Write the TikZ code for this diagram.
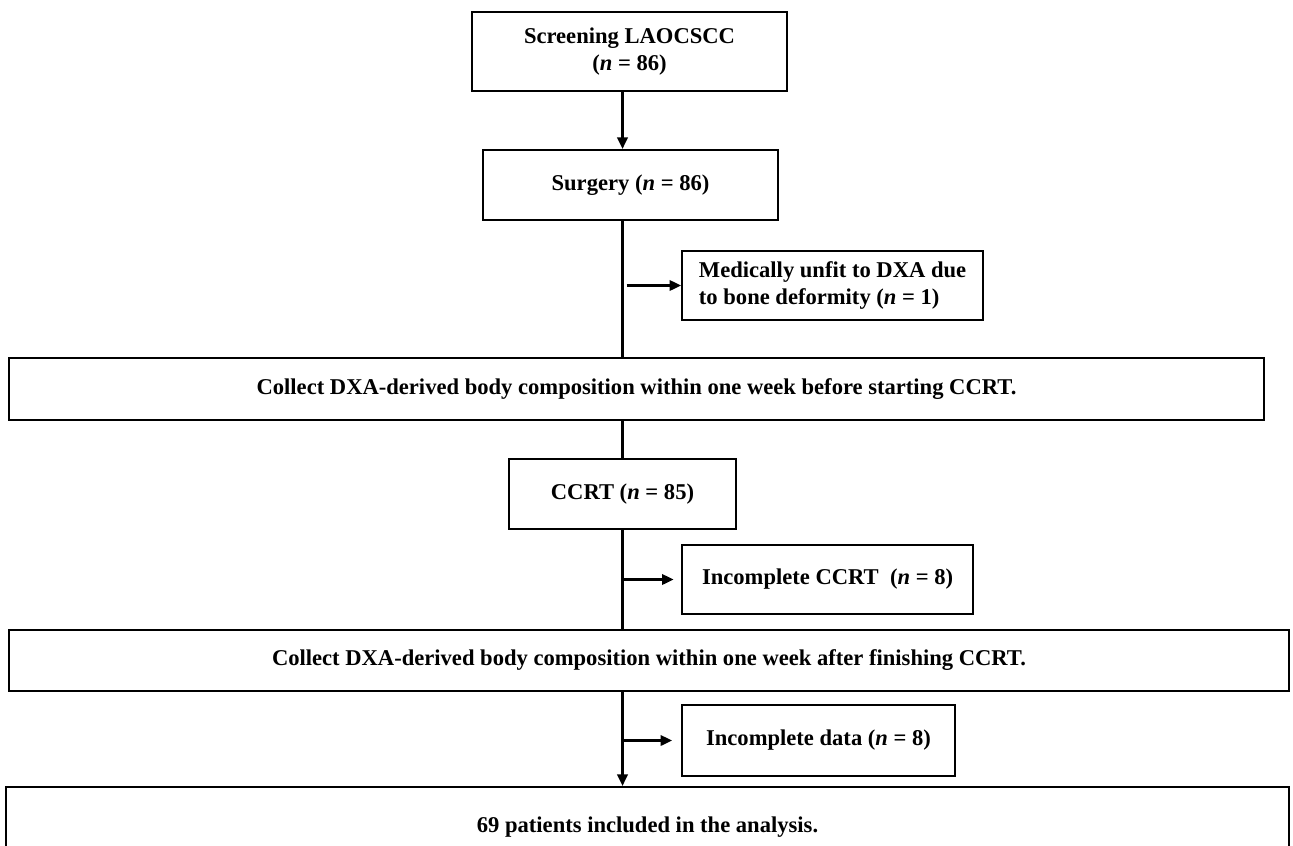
\documentclass[tikz,border=0pt]{standalone}
\usepackage{fontspec}
\setmainfont{Liberation Serif}
\usetikzlibrary{positioning,arrows.meta}

\begin{document}
\begin{tikzpicture}[
    font=\fontsize{12.85}{15.5}\selectfont\bfseries,
    box/.style={
        draw=black,
        line width=1.2pt,
        align=center,
        inner sep=0pt
    },
    sidebox/.style={
        box,
        anchor=west,
        align=left,
        inner xsep=0.32cm
    },
    link/.style={line width=1.35pt, draw=black},
    arrow/.style={link, -{Triangle[length=2.3mm, width=2.1mm]}}
]

\path[use as bounding box, fill=white] (0,0) rectangle (25.86,-16.92);

\node[box, minimum width=6.30cm, minimum height=1.58cm] (screen) at (12.59,-1.03) {Screening LAOCSCC\\(\textit{n} = 86)};
\node[box, minimum width=5.90cm, minimum height=1.40cm] (surgery) at (12.61,-3.70) {Surgery (\textit{n} = 86)};
\node[sidebox, minimum width=6.02cm, minimum height=1.38cm] (unfit) at (13.62,-5.71) {Medically unfit to DXA due\\to bone deformity (\textit{n} = 1)};

\node[box, minimum width=25.10cm, minimum height=1.24cm] (before) at (12.73,-7.78) {Collect DXA-derived body composition within one week before starting CCRT.};
\node[box, minimum width=4.54cm, minimum height=1.40cm] (ccrt) at (12.45,-9.88) {CCRT (\textit{n} = 85)};
\node[sidebox, minimum width=5.82cm, minimum height=1.38cm] (inccrt) at (13.62,-11.59) {Incomplete CCRT~~(\textit{n} = 8)};

\node[box, minimum width=25.60cm, minimum height=1.22cm] (after) at (12.98,-13.21) {Collect DXA-derived body composition within one week after finishing CCRT.};
\node[sidebox, minimum width=5.46cm, minimum height=1.42cm] (incdata) at (13.62,-14.81) {Incomplete data (\textit{n} = 8)};
\node[box, minimum width=25.66cm, minimum height=1.60cm] (final) at (12.95,-16.54) {69 patients included in the analysis.};

% main line
\draw[arrow] (screen.south -| ccrt) -- (surgery.north -| ccrt);
\draw[link] (surgery.south -| ccrt) -- (before.north -| ccrt);
\draw[link] (before.south -| ccrt) -- (ccrt.north);
\draw[link] (ccrt.south) -- (after.north -| ccrt);
\draw[arrow] (after.south -| ccrt) -- (final.north -| ccrt);

% exclusions
\draw[arrow] ([xshift=0.08cm]unfit.west -| ccrt) -- (unfit.west);
\draw[arrow, shorten >=0.15cm] (inccrt.west -| ccrt) -- (inccrt.west);
\draw[arrow, shorten >=0.18cm] (incdata.west -| ccrt) -- (incdata.west);

\end{tikzpicture}
\end{document}
